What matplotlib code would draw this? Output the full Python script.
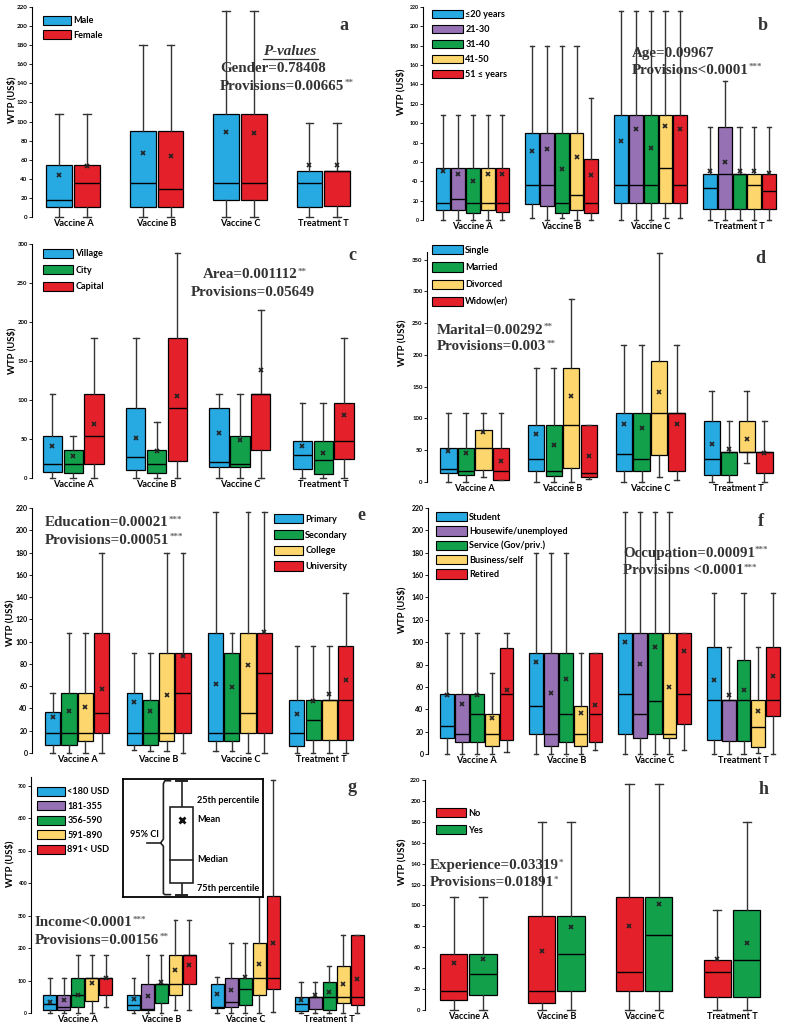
import matplotlib

matplotlib.use("Agg")
import matplotlib.pyplot as plt
from matplotlib.patches import Patch, Rectangle
from matplotlib.lines import Line2D

plt.rcParams["font.family"] = ["Lato", "DejaVu Sans"]
plt.rcParams["font.weight"] = "bold"

W, H = 800, 1031
SERIF = ["Liberation Serif", "DejaVu Serif"]

VACCINES = ["Vaccine A", "Vaccine B", "Vaccine C", "Treatment T"]

BLUE = "#27A9E1"
RED = "#E4212A"
GREEN = "#12A04B"
PURPLE = "#9672B4"
YELLOW = "#FDD76E"

# one row per vaccine: (whisker low, q1, median, q3, whisker high, mean)
GENDER = ["Male", "Female"]
GENDER_STATS = [
    [(0, 10.8, 18, 54, 108, 44), (0, 10.8, 36, 90, 180, 67), (0, 18, 36, 108, 216, 89), (0, 10.8, 36, 48, 98, 55)],
    [(0, 10.8, 36, 54, 108, 53), (0, 10.8, 29, 90, 180, 64), (0, 18, 36, 108, 216, 88), (0, 12, 48, 48, 98, 54)],
]

AGE = ["≤20 years", "21-30", "31-40", "41-50", "51 ≤ years"]
AGE_STATS = [
    [(0, 10.3, 18, 54, 108, 51), (2, 17, 36, 90, 180, 71), (0, 18, 36, 108, 216, 82), (0, 11.7, 32.6, 48, 96, 51)],
    [(0, 10.3, 21.6, 54, 108, 48), (0, 14.4, 36, 90, 180, 73.5), (0, 18, 36, 108, 216, 94), (0, 11.7, 48, 96, 144, 60)],
    [(0, 7, 18, 54, 108, 40), (2, 7, 18, 90, 180, 52.6), (0, 18, 36, 108, 216, 74.6), (0, 11.7, 48, 48, 96, 51)],
    [(0, 10.3, 18, 54, 108, 47.8), (0, 10.3, 25.8, 90, 180, 64.6), (2, 18, 54, 108, 216, 97), (0, 11.7, 36, 48, 96, 51)],
    [(0, 8.6, 18, 54, 108, 47.8), (0, 7, 18, 62.5, 126, 46.7), (2, 18, 36, 108, 216, 94.5), (0, 11.7, 30, 48, 96, 49)],
]

AREA = ["Village", "City", "Capital"]
AREA_STATS = [
    [(0, 7.3, 18, 54, 108, 41.5), (0, 10.7, 27, 90, 180, 51), (0, 14, 20.5, 90, 108, 57.7), (0, 11.5, 30, 48, 96, 40.6)],
    [(0, 7, 18, 36, 54, 28.6), (0, 6.4, 18, 36, 72, 35), (0, 14, 18, 54, 108, 49), (0, 5.6, 23.5, 48, 96, 32)],
    [(0, 18, 54, 108, 180, 69), (0, 21.4, 90, 180, 288, 105.6), (0, 35.5, 108, 108, 216, 139), (0, 24, 48, 96, 180, 81)],
]

MARITAL = ["Single", "Married", "Divorced", "Widow(er)"]
MARITAL_STATS = [
    [(0, 14, 20.5, 54, 108, 48.5), (0, 18, 36, 90, 180, 74.8), (0, 18, 44, 108, 216, 92), (0, 11.6, 36, 96, 144, 60)],
    [(0, 10.5, 18, 54, 108, 45.8), (0, 9, 18, 90, 180, 58), (0, 18, 36, 108, 216, 85), (0, 11.6, 48, 48, 96, 52)],
    [(8, 18.4, 54, 81.7, 108, 79), (0, 22, 90, 180, 288, 135), (8, 43, 108, 190, 360, 142), (30, 48, 48, 96, 144, 67)],
    [(2.6, 2.6, 18, 54, 108, 32.7), (5, 7.4, 14, 90, 90, 40.6), (3.7, 18, 108, 108, 216, 90.6), (0, 14, 48, 48, 96, 46)],
]

EDUCATION = ["Primary", "Secondary", "College", "University"]
EDUCATION_STATS = [
    [(0, 7, 18, 36.4, 54, 32), (2.4, 7, 18, 54, 90, 45.4), (2, 11, 18, 108, 216, 62), (0, 6, 18, 48, 96, 35)],
    [(0, 7, 18, 54, 108, 37.3), (2, 7, 18, 48, 90, 38), (2, 11, 18, 90, 108, 59), (0, 12, 30, 48, 96, 46.6)],
    [(0, 11, 18, 54, 108, 41), (2, 11, 18, 90, 180, 52), (0, 18, 36, 108, 216, 79), (0, 12, 48, 48, 96, 53)],
    [(0, 18, 36, 108, 180, 57.6), (0, 18, 54, 90, 180, 87), (0, 18, 72, 108, 216, 109), (0, 12, 48, 96, 144, 66)],
]

OCCUPATION = ["Student", "Housewife/unemployed", "Service (Gov/priv.)", "Business/self", "Retired"]
OCCUPATION_STATS = [
    [(0, 14, 25, 54, 108, 52.8), (0, 18, 43, 90, 180, 82.7), (0, 18, 54, 108, 216, 100), (0, 12.5, 48, 96, 144, 66)],
    [(0, 11, 18, 54, 108, 45), (0, 7, 18, 90, 180, 55), (0, 14, 36, 108, 216, 80.6), (0, 12, 48, 48, 96, 53)],
    [(0, 11, 36, 54, 108, 53), (0, 11, 36, 90, 180, 67), (0, 18, 47, 108, 216, 96), (0, 12, 48, 84, 144, 57)],
    [(0, 7, 18, 36, 72, 32), (0, 7, 18, 43, 90, 37), (0, 14, 18, 108, 216, 60), (1, 6.5, 24.5, 48, 96, 38.5)],
    [(2, 12.5, 54, 94.6, 108, 57), (4, 11, 36, 90, 90, 44), (4, 27, 54, 108, 108, 92.5), (0, 34, 48, 96, 144, 70)],
]

INCOME = ["<180 USD", "181-355", "356-590", "591-890", "891< USD"]
INCOME_STATS = [
    [(0, 10, 27, 54, 108, 33), (0, 8, 23.6, 54, 108, 43), (0, 15, 19, 89, 110, 58), (0, 5, 28, 48, 96, 41)],
    [(0, 10, 18, 54, 108, 41), (0, 10, 13, 90, 180, 53), (0, 19, 35, 107, 217, 71), (0, 13, 48, 48, 96, 54)],
    [(0, 18, 54, 108, 180, 57), (0, 30.7, 90, 90, 180, 97), (0, 25, 73, 107, 217, 110), (0, 10.5, 48, 96, 144, 63.5)],
    [(0, 36, 108, 108, 180, 94), (8, 54, 90, 180, 288, 133), (0, 55, 107, 215, 360, 151), (0, 30.7, 48, 144, 240, 90)],
    [(18, 54, 108, 108, 180, 108), (8, 90, 180, 180, 288, 148.6), (4, 73, 109, 360, 720, 217), (0, 25.6, 48, 240, 240, 104.5)],
]

EXPERIENCE = ["No", "Yes"]
EXPERIENCE_STATS = [
    [(0, 10, 18, 54, 108, 45), (0, 7, 18, 90, 180, 56), (0, 18, 36, 108, 216, 80), (0, 12, 36, 48, 96, 49)],
    [(0, 14, 34, 54, 108, 49), (0, 18, 54, 90, 180, 79), (0, 18, 72, 108, 216, 101), (0, 12, 48, 96, 180, 64)],
]


def fx(px):
    return px / W


def fy(py):
    return 1 - py / H


def draw_panel(fig, stats, colors, box, ymax, ystep, tick_fs):
    # box: left px, right px, xlim left, y px of ymax, y px of zero
    left, right, xleft, top_px, zero_px = box
    ax = fig.add_axes([fx(left), fy(zero_px), (right - left) / W, (zero_px - top_px) / H])
    n = len(stats)
    step = 1.0 / (n + 1)
    width = step * 0.93
    for i, (rows, color) in enumerate(zip(stats, colors)):
        offset = (i - (n - 1) / 2.0) * step
        bstats = [
            dict(whislo=r[0], q1=r[1], med=r[2], q3=r[3], whishi=r[4], mean=r[5], fliers=[])
            for r in rows
        ]
        art = ax.bxp(
            bstats,
            positions=[k + 1 + offset for k in range(len(rows))],
            widths=width,
            capwidths=width * 0.3,
            patch_artist=True,
            showmeans=True,
            showfliers=False,
            boxprops=dict(facecolor=color, edgecolor="black", linewidth=0.9),
            medianprops=dict(color="black", linewidth=1.0),
            whiskerprops=dict(color="#333333", linewidth=1.0),
            capprops=dict(color="#333333", linewidth=1.0),
            meanprops=dict(marker="x", markeredgecolor="#222222", markersize=3, markeredgewidth=1.2),
        )
        for group in art.values():
            for a in group:
                a.set_clip_on(False)
    ax.set_xlim(xleft, 4.5)
    ax.set_ylim(0, ymax)
    ax.set_yticks(range(0, int(ymax) + 1, ystep))
    ax.set_xticks(range(1, 5))
    ax.set_xticklabels(VACCINES, fontsize=6.6, fontweight="bold")
    ax.tick_params(axis="x", length=0, pad=1.5)
    ax.tick_params(axis="y", labelsize=tick_fs, length=2, width=0.6, pad=1.2)
    for lab in ax.get_yticklabels():
        lab.set_fontweight("bold")
    for side in ("top", "right", "bottom"):
        ax.spines[side].set_visible(False)
    ax.spines["left"].set_linewidth(0.8)
    ax.patch.set_alpha(0)
    return ax


def add_legend(ax, fig, labels, colors, x_px, y_px, pitch, hpx, wpx, fs=6.6):
    fs_px = fs * 100 / 72.0
    handles = [Patch(facecolor=c, edgecolor="black", linewidth=0.8) for c in colors]
    ax.legend(
        handles,
        labels,
        loc="upper left",
        bbox_to_anchor=(fx(x_px), fy(y_px)),
        bbox_transform=fig.transFigure,
        frameon=False,
        borderpad=0,
        borderaxespad=0,
        handlelength=wpx / fs_px,
        handleheight=hpx / fs_px,
        handletextpad=0.25,
        labelspacing=(pitch - hpx) / fs_px,
        prop=dict(size=fs, weight="bold"),
    )


def stat_text(ax, fig, x_px, y_px, s, stars="", size=10.8, ha="left", **kw):
    t = fig.text(fx(x_px), fy(y_px), s, ha=ha, va="center", fontsize=size,
                 family=SERIF, fontweight="bold", color="#333333", **kw)
    if stars:
        # significance stars as a small superscript right after the text
        ax.annotate(stars, xy=(1.0, 1.05), xycoords=t, ha="left", va="top",
                    fontsize=6.5, family=SERIF, fontweight="bold", color="#666666",
                    annotation_clip=False)
    return t


def ylabel(fig, x_px, y_px):
    fig.text(fx(x_px), fy(y_px), "WTP (US$)", rotation=90, ha="center", va="center",
             fontsize=6.8, fontweight="bold")


fig = plt.figure(figsize=(W / 100, H / 100), dpi=100)

# a: gender
ax = draw_panel(fig, GENDER_STATS, [BLUE, RED], (32, 365, 0.505, 7, 217), 220, 20, 4.5)
add_legend(ax, fig, GENDER, [BLUE, RED], 43, 16, 15, 10, 28)
stat_text(ax, fig, 290, 52, "P-values", ha="center", fontstyle="italic")
fig.add_artist(Line2D([fx(263), fx(318)], [fy(59), fy(59)], color="#333333", linewidth=0.9))
stat_text(ax, fig, 220, 68, "Gender=0.78408")
stat_text(ax, fig, 220, 86, "Provisions=0.00665", "**")
stat_text(ax, fig, 339, 26, "a", size=13)
ylabel(fig, 12, 100)

# b: age
ax = draw_panel(fig, AGE_STATS, [BLUE, PURPLE, GREEN, YELLOW, RED], (423, 784, 0.44, 7, 220), 220, 20, 3.8)
add_legend(ax, fig, AGE, [BLUE, PURPLE, GREEN, YELLOW, RED], 432, 10, 14.7, 9, 31)
stat_text(ax, fig, 632, 53, "Age=0.09967")
stat_text(ax, fig, 632, 70, "Provisions<0.0001", "***")
stat_text(ax, fig, 758, 26, "b", size=13)
ylabel(fig, 401, 92)

# c: area
ax = draw_panel(fig, AREA_STATS, [BLUE, GREEN, RED], (32, 365, 0.505, 244, 478), 300, 50, 4.3)
add_legend(ax, fig, AREA, [BLUE, GREEN, RED], 43, 249, 17, 10, 30)
stat_text(ax, fig, 250, 275, "Area=0.001112", "**", ha="center")
stat_text(ax, fig, 253, 292, "Provisions=0.05649", ha="center")
stat_text(ax, fig, 348, 256, "c", size=13)
ylabel(fig, 12, 351)

# d: marital
ax = draw_panel(fig, MARITAL_STATS, [BLUE, GREEN, YELLOW, RED], (427, 782, 0.457, 252, 482), 362, 50, 4.3)
add_legend(ax, fig, MARITAL, [BLUE, GREEN, YELLOW, RED], 432, 245, 18.5, 11, 31)
stat_text(ax, fig, 437, 330, "Marital=0.00292", "**")
stat_text(ax, fig, 437, 347, "Provisions=0.003", "**")
stat_text(ax, fig, 755, 258, "d", size=13)
ylabel(fig, 402, 343)

# e: education
ax = draw_panel(fig, EDUCATION_STATS, [BLUE, GREEN, YELLOW, RED], (32, 362, 0.445, 508, 753), 220, 20, 5)
add_legend(ax, fig, EDUCATION, [BLUE, GREEN, YELLOW, RED], 274, 514, 17, 11, 29)
stat_text(ax, fig, 45, 523, "Education=0.00021", "***")
stat_text(ax, fig, 45, 540, "Provisions=0.00051", "***")
stat_text(ax, fig, 357, 516, "e", size=13)
ylabel(fig, 10, 623)

# f: occupation
ax = draw_panel(fig, OCCUPATION_STATS, [BLUE, PURPLE, GREEN, YELLOW, RED], (428, 788, 0.45, 508, 754), 220, 20, 5)
add_legend(ax, fig, OCCUPATION, [BLUE, PURPLE, GREEN, YELLOW, RED], 436, 512, 15.5, 11, 31)
stat_text(ax, fig, 623, 553, "Occupation=0.00091", "***")
stat_text(ax, fig, 623, 571, "Provisions <0.0001", "***")
stat_text(ax, fig, 758, 521, "f", size=13)
ylabel(fig, 402, 610)

# g: income
ax = draw_panel(fig, INCOME_STATS, [BLUE, PURPLE, GREEN, YELLOW, RED], (31, 371, 0.443, 777, 1013), 728, 100, 3.6)
add_legend(ax, fig, INCOME, [BLUE, PURPLE, GREEN, YELLOW, RED], 37, 787, 15, 10, 28)
stat_text(ax, fig, 35, 923, "Income<0.0001", "***")
stat_text(ax, fig, 35, 940, "Provisions=0.00156", "**")
stat_text(ax, fig, 347, 788, "g", size=13)
ylabel(fig, 10, 864)

# boxplot key drawn inside panel g
key = fig.add_axes([fx(122.7), fy(897), 140.3 / W, 118 / H])
key.set_xlim(0, 1)
key.set_ylim(0, 1)
key.set_xticks([])
key.set_yticks([])
for sp in key.spines.values():
    sp.set_linewidth(1.3)
key.plot([0.42, 0.42], [0.02, 0.985], color="#222222", linewidth=1.2)
key.add_patch(Rectangle((0.337, 0.116), 0.166, 0.649, facecolor="white", edgecolor="#222222", linewidth=1.2, zorder=3))
key.plot([0.337, 0.503], [0.314, 0.314], color="#222222", linewidth=1.2, zorder=4)
key.plot([0.42], [0.653], marker="x", color="#111111", markersize=5, markeredgewidth=2, zorder=5)
key.plot([0.38, 0.46], [0.985, 0.985], color="#222222", linewidth=1.4)
key.plot([0.38, 0.46], [0.02, 0.02], color="#222222", linewidth=1.4)
key.plot([0.34, 0.3, 0.29, 0.29, 0.27, 0.29, 0.29, 0.3, 0.34],
         [0.985, 0.985, 0.96, 0.49, 0.458, 0.43, 0.03, 0.02, 0.02], color="#222222", linewidth=1.2)
key.plot([0.17, 0.27], [0.458, 0.458], color="#222222", linewidth=1.2)
key_fs = 6.6
key.text(0.05, 0.53, "95% CI", fontsize=key_fs, fontweight="bold", va="center", ha="left")
key.text(0.53, 0.82, "25th percentile", fontsize=key_fs, fontweight="bold", va="center")
key.text(0.53, 0.653, "Mean", fontsize=key_fs, fontweight="bold", va="center")
key.text(0.53, 0.314, "Median", fontsize=key_fs, fontweight="bold", va="center")
key.text(0.53, 0.07, "75th percentile", fontsize=key_fs, fontweight="bold", va="center")

# h: experience
ax = draw_panel(fig, EXPERIENCE_STATS, [RED, GREEN], (425, 776, 0.507, 780, 1010), 220, 20, 4.3)
add_legend(ax, fig, EXPERIENCE, [RED, GREEN], 436, 808, 18, 11, 30)
stat_text(ax, fig, 430, 866, "Experience=0.03319", "*")
stat_text(ax, fig, 430, 883, "Provisions=0.01891", "*")
stat_text(ax, fig, 759, 790, "h", size=13)
ylabel(fig, 402, 862)

fig.savefig("out.png", dpi=100)
plt.close(fig)
